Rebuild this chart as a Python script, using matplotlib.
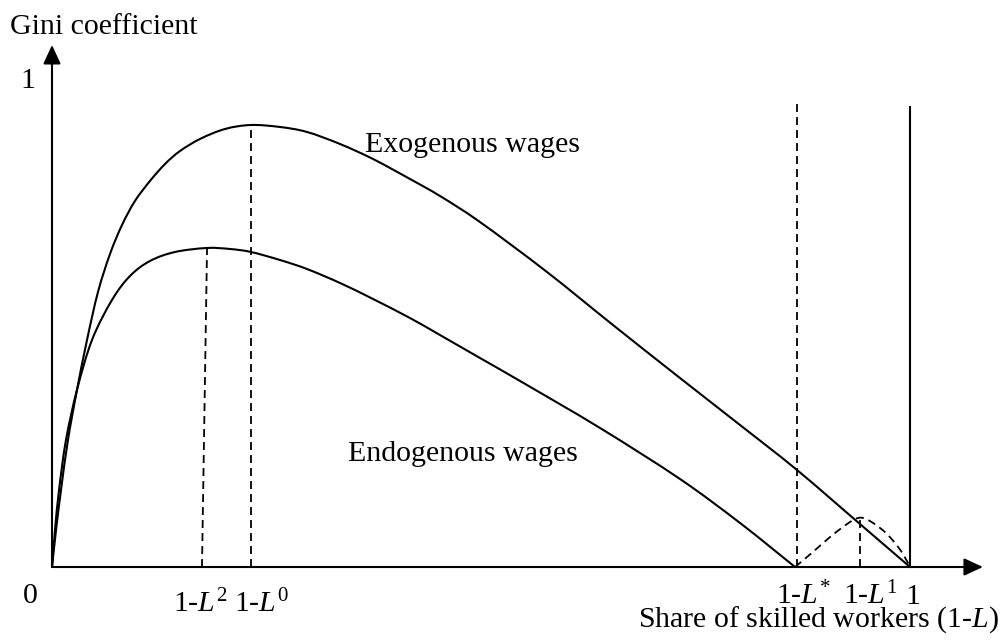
import matplotlib
matplotlib.use("Agg")
import matplotlib.pyplot as plt
from matplotlib.path import Path
from matplotlib.patches import PathPatch

plt.rcParams['font.family'] = ['Liberation Serif', 'DejaVu Serif']
plt.rcParams['mathtext.fontset'] = 'custom'
plt.rcParams['mathtext.rm'] = 'Liberation Serif'
plt.rcParams['mathtext.it'] = 'Liberation Serif:italic'

# ---- data (read from the schematic) ----
exo_x = [0.0, 0.0047, 0.0105, 0.0186, 0.0291, 0.0408, 0.0536, 0.0676, 0.0816, 0.0967,
         0.1142, 0.1317, 0.1492, 0.1725, 0.2016, 0.2319, 0.2657, 0.2972, 0.3357, 0.3741,
         0.4172, 0.4522, 0.4988, 0.5769, 0.6538, 0.7319, 0.8019, 0.8683, 0.9417, 1.0]
exo_y = [0.0, 0.0757, 0.1575, 0.2597, 0.3620, 0.4642, 0.5624, 0.6401, 0.6994, 0.7485,
         0.7894, 0.8241, 0.8507, 0.8753, 0.8957, 0.9039, 0.8998, 0.8896, 0.8650, 0.8344,
         0.7935, 0.7587, 0.7055, 0.6033, 0.4949, 0.3865, 0.2904, 0.1984, 0.0879, 0.0]

endo_x = [0.0, 0.0035, 0.0082, 0.0163, 0.0291, 0.0466, 0.0699, 0.0909, 0.1142, 0.1434,
          0.1807, 0.2075, 0.2319, 0.2657, 0.2972, 0.3357, 0.3741, 0.4172, 0.4522, 0.4988,
          0.5455, 0.6387, 0.7319, 0.8019, 0.8660]
endo_y = [0.0, 0.0757, 0.1575, 0.2597, 0.3620, 0.4642, 0.5460, 0.5951, 0.6258, 0.6442,
          0.6524, 0.6503, 0.6442, 0.6278, 0.6094, 0.5808, 0.5481, 0.5092, 0.4744, 0.4274,
          0.3804, 0.2843, 0.1800, 0.0900, 0.0]

arc_x = [0.8660, 0.8869, 0.9068, 0.9266, 0.9394, 0.9487, 0.9604, 0.9720, 0.9825, 0.9918, 1.0]
arc_y = [0.0, 0.0307, 0.0613, 0.0879, 0.1002, 0.0982, 0.0859, 0.0695, 0.0491, 0.0266, 0.0]

# dashed reference lines: (x bottom, x top, y top)
ref_names = ['1-L2', '1-L0', '1-Lstar', '1-L1']
ref_xbot = [0.1748, 0.2319, 0.8683, 0.9417]
ref_xtop = [0.1807, 0.2319, 0.8683, 0.9417]
ref_ytop = [0.6524, 0.9039, 0.951, 0.1002]

bound_x = 1.0
bound_top = 0.9407

axis_tip_x = 1.085
axis_tip_y = 1.0675

tick_labels = ['0', r'1-$L^{2}$', r'1-$L^{0}$', r'1-$L^{*}$', r'1-$L^{1}$', '1']
tick_pos_x = [-0.0256, 0.141, 0.2121, 0.8438, 0.9220, 0.9942]
tick_pos_y = [-0.0736, -0.092, -0.092, -0.0757, -0.0757, -0.0757]
tick_ha = ['center', 'left', 'left', 'left', 'left', 'left']


def smooth_path(xs, ys):
    """Draw a smooth curve through the read points (Catmull-Rom as Bezier)."""
    pts = list(zip(xs, ys))
    n = len(pts)
    verts = [pts[0]]
    codes = [Path.MOVETO]
    for i in range(n - 1):
        p0 = pts[i - 1] if i > 0 else pts[i]
        p1 = pts[i]
        p2 = pts[i + 1]
        p3 = pts[i + 2] if i + 2 < n else pts[i + 1]
        c1 = (p1[0] + (p2[0] - p0[0]) / 6, p1[1] + (p2[1] - p0[1]) / 6)
        c2 = (p2[0] - (p3[0] - p1[0]) / 6, p2[1] - (p3[1] - p1[1]) / 6)
        verts += [c1, c2, p2]
        codes += [Path.CURVE4] * 3
    return Path(verts, codes)


# ---- figure ----
fig = plt.figure(figsize=(10, 6.44), dpi=100)
ax = fig.add_axes([0, 0, 1, 1])
ax.set_xlim(-52 / 858, 948 / 858)
ax.set_ylim(-77 / 489, 567 / 489)
ax.axis('off')

fs = 21.5
lw = 1.5
dash = (0, (4.4, 2.8))

# axes with arrows
arrow = dict(arrowstyle='-|>,head_length=0.8,head_width=0.37', mutation_scale=14.4,
             lw=lw, color='black', shrinkA=0, shrinkB=0)
ax.annotate('', xy=(axis_tip_x, 0), xytext=(0, 0), arrowprops=arrow)
ax.annotate('', xy=(0, axis_tip_y), xytext=(0, 0), arrowprops=arrow)

# curves
ax.add_patch(PathPatch(smooth_path(exo_x, exo_y), fill=False, ec='black', lw=lw))
ax.add_patch(PathPatch(smooth_path(endo_x, endo_y), fill=False, ec='black', lw=lw))
ax.add_patch(PathPatch(smooth_path(arc_x, arc_y), fill=False, ec='black', lw=1.3,
                       linestyle=dash))

# dashed verticals
for xb, xt, yt in zip(ref_xbot, ref_xtop, ref_ytop):
    ax.plot([xb, xt], [0, yt], color='black', lw=1.3, linestyle=dash)

# solid vertical at 1
ax.plot([bound_x, bound_x], [0, bound_top], color='black', lw=lw)

# labels
for lab, x, y, ha in zip(tick_labels, tick_pos_x, tick_pos_y, tick_ha):
    ax.text(x, y, lab, fontsize=fs, ha=ha, va='baseline')

ax.text(-0.028, 0.9796, '1', fontsize=fs, ha='center', va='baseline')
ax.text(-0.049, 1.090, 'Gini coefficient', fontsize=fs, ha='left', va='baseline')
ax.text(1.104, -0.1227, r'Share of skilled workers (1-$L$)', fontsize=fs,
        ha='right', va='baseline')
ax.text(0.3648, 0.8487, 'Exogenous wages', fontsize=fs, ha='left', va='baseline')
ax.text(0.345, 0.2168, 'Endogenous wages', fontsize=fs, ha='left', va='baseline')

fig.savefig('out.png', dpi=100)
